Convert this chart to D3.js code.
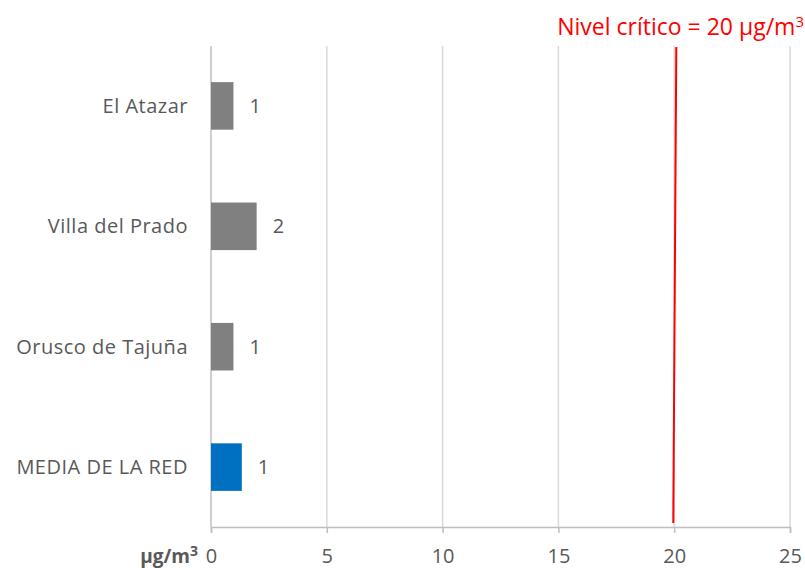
<!DOCTYPE html>
<html>
<head>
<meta charset="utf-8">
<script src="https://cdn.jsdelivr.net/npm/d3@7"></script>
<style>
body { margin: 0; background: #fff; }
text { font-family: "Open Sans", sans-serif; }
</style>
</head>
<body>
<svg id="chart"></svg>
<script>
// data
var stations = ["El Atazar", "Villa del Prado", "Orusco de Tajuña", "MEDIA DE LA RED"];
var values = [0.97, 1.97, 0.97, 1.33];
var barColors = ["#808080", "#808080", "#808080", "#0070c0"];
var xTicks = [0, 5, 10, 15, 20, 25];
var limitLine = [20.09, 19.96]; // top, bottom (line is slightly tilted in original)
var limitLabel = "Nivel crítico = 20 µg/m";
var unitLabel = "µg/m";

var margin = {top: 46, right: 15, bottom: 41, left: 211},
width = 805 - margin.left - margin.right,
height = 568 - margin.top - margin.bottom;

var svg = d3.select("#chart")
.attr("width", width + margin.left + margin.right)
.attr("height", height + margin.top + margin.bottom)
.append("g")
.attr("transform", "translate(" + margin.left + "," + margin.top + ")");

var x = d3.scaleLinear()
.domain([0, 25])
.range([0, 579]);

var y = d3.scaleBand()
.domain(stations)
.range([0, height])
.paddingInner(0.605)
.paddingOuter(0.3);

// gridlines
svg.selectAll("line.grid")
.data(xTicks.slice(1))
.enter()
.append("line")
.attr("class", "grid")
.attr("x1", function(d) { return x(d); })
.attr("x2", function(d) { return x(d); })
.attr("y1", 0)
.attr("y2", height)
.attr("stroke", "#d9d9d9")
.attr("stroke-width", 1.5);

// left axis line
svg.append("line")
.attr("x1", 0).attr("x2", 0)
.attr("y1", 0).attr("y2", height)
.attr("stroke", "#bfbfbf")
.attr("stroke-width", 1.5);

// X axis
var xAxis = svg.append("g")
.attr("transform", "translate(0," + height + ")")
.call(d3.axisBottom(x).tickValues(xTicks).tickSize(6).tickPadding(16));
xAxis.select(".domain").attr("stroke", "#bfbfbf").attr("stroke-width", 1.5);
xAxis.selectAll(".tick line").attr("stroke", "#bfbfbf").attr("stroke-width", 1.5);
xAxis.selectAll("text")
.attr("fill", "#595959")
.style("font-size", "20px")
.style("font-family", "'Open Sans', sans-serif");

// unit label
var unit = svg.append("text")
.attr("x", -13)
.attr("y", height + 36)
.attr("text-anchor", "end")
.attr("fill", "#595959")
.style("font-size", "19px")
.style("font-weight", "bold")
.text(unitLabel);
unit.append("tspan").attr("dy", -7).style("font-size", "14px").text("3");

// Y labels
svg.selectAll("text.cat")
.data(stations)
.enter()
.append("text")
.attr("class", "cat")
.attr("x", -23)
.attr("y", function(d) { return y(d) + y.bandwidth() / 2; })
.attr("dy", "0.35em")
.attr("text-anchor", "end")
.attr("fill", "#595959")
.style("font-size", "20px")
.style("letter-spacing", "0.5px")
.text(function(d) { return d; });

// Bars
svg.selectAll("rect.bar")
.data(values)
.enter()
.append("rect")
.attr("class", "bar")
.attr("x", x(0))
.attr("y", function(d, i) { return y(stations[i]); })
.attr("width", function(d) { return x(d) - x(0); })
.attr("height", y.bandwidth())
.attr("fill", function(d, i) { return barColors[i]; });

// value labels
svg.selectAll("text.val")
.data(values)
.enter()
.append("text")
.attr("class", "val")
.attr("x", function(d) { return x(d) + 16; })
.attr("y", function(d, i) { return y(stations[i]) + y.bandwidth() / 2; })
.attr("dy", "0.35em")
.attr("fill", "#595959")
.style("font-size", "20px")
.text(function(d) { return d3.format(".0f")(d); });

// critical level line
svg.append("line")
.attr("x1", x(limitLine[0]))
.attr("x2", x(limitLine[1]))
.attr("y1", 1)
.attr("y2", height - 4)
.attr("stroke", "#ff0000")
.attr("stroke-width", 2);

var lbl = svg.append("text")
.attr("x", 805 - margin.left - 1)
.attr("y", -11)
.attr("text-anchor", "end")
.attr("fill", "#ff0000")
.style("font-size", "23px")
.text(limitLabel);
lbl.append("tspan").attr("dy", -8).style("font-size", "15px").text("3");
</script>
</body>
</html>
